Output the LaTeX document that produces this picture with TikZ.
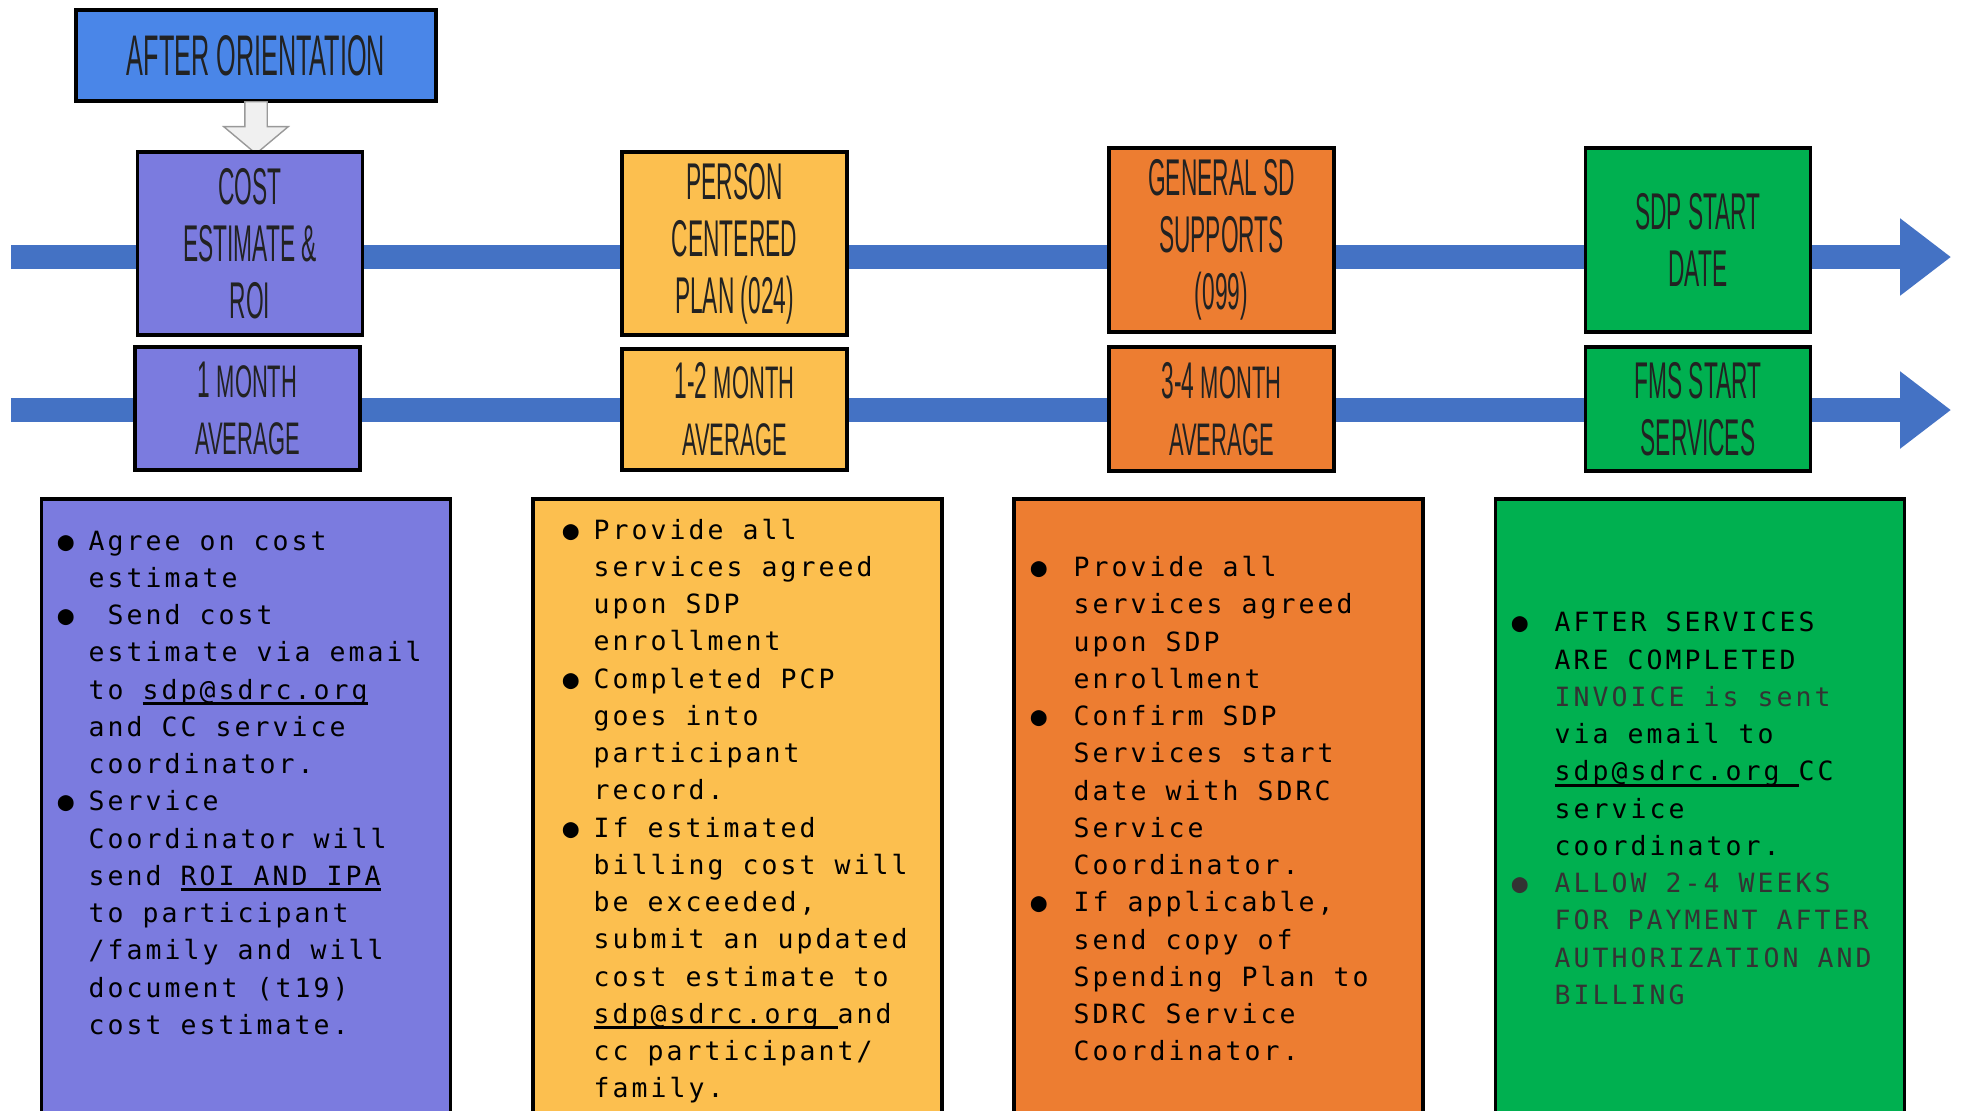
\documentclass[tikz,border=0pt]{standalone}
\usepackage{fontspec}
\usepackage{xcolor}
\usepackage{tikz}
\usetikzlibrary{shapes,arrows.meta,positioning}

\newfontfamily\tallfont[FakeStretch=0.44]{Liberation Sans}
\newfontfamily\widetallfont[FakeStretch=0.48]{Liberation Sans}
\newfontfamily\notefont[LetterSpace=11.5]{DejaVu Sans Mono}

\definecolor{orientblue}{HTML}{4A86E8}
\definecolor{barblue}{HTML}{4472C4}
\definecolor{costpurple}{HTML}{7B7BDF}
\definecolor{planyellow}{HTML}{FCBF4F}
\definecolor{supportorange}{HTML}{ED7D31}
\definecolor{startgreen}{HTML}{00B050}
\definecolor{inkgray}{HTML}{222222}

\newcommand{\lowcaps}[1]{{\widetallfont\fontsize{13pt}{16.2pt}\selectfont #1}}
\newcommand{\ulink}[1]{\setbox0=\hbox{#1}\rlap{\rule[-1.7pt]{\wd0}{0.9pt}}\box0}
\newcommand{\bul}[1]{\llap{●\hspace{#1}}}

\begin{document}
\begin{tikzpicture}
  [
    Box/.style={draw=black, line width=0.9pt, text=inkgray, align=center, inner sep=0pt,
      minimum width=2.25cm, font=\tallfont\fontsize{14.7pt}{16.2pt}\selectfont},
    Panel/.style={draw=black, line width=0.9pt, minimum width=4.09cm, minimum height=6.16cm, inner sep=0pt},
    Note/.style={anchor=north west, align=left, inner sep=0pt, text=black,
      font=\notefont\fontsize{7.54pt}{10.6pt}\selectfont},
    Bar/.style={draw=barblue, line width=0.24cm, -{Triangle[length=0.51cm, width=0.74cm]}}
  ]
  \useasboundingbox (0,0) rectangle (19.61,-11.10);

  % Timeline
  \coordinate (top start) at (0.11,-2.57);
  \coordinate (top end) at (19.51,-2.57);
  \coordinate (low start) at (0.11,-4.10);
  \coordinate (low end) at (19.51,-4.10);

  \path [Bar] (top start) -- (top end);
  \path [Bar] (low start) -- (low end);

  % Nodes
  \node[Box, fill=orientblue, minimum width=3.60cm, minimum height=0.91cm,
    font=\tallfont\fontsize{16.3pt}{18pt}\selectfont] (after) at (2.56,-0.555) {AFTER ORIENTATION};

  \node[single arrow, draw=gray!80, fill=gray!12, rotate=-90, inner xsep=0pt, inner ysep=0.105cm,
    minimum height=0.52cm, single arrow head extend=0.21cm,
    single arrow tip angle=100] (down) at (2.56,-1.23) {};

  \node[Box, fill=costpurple, minimum height=1.83cm] (cost) at (2.50,-2.435) {COST\\ESTIMATE \&\\ROI};
  \node[Box, fill=planyellow, minimum height=1.83cm] (plan) at (7.345,-2.435) {PERSON\\CENTERED\\PLAN (024)};
  \node[Box, fill=supportorange, minimum height=1.84cm] (supports) at (12.215,-2.40) {GENERAL SD\\SUPPORTS\\(099)};
  \node[Box, fill=startgreen, minimum height=1.84cm] (sdpstart) at (16.98,-2.40) {SDP START\\DATE};

  \node[Box, fill=costpurple, minimum height=1.23cm] (month1) at (2.475,-4.085) {1 \lowcaps{MONTH}\\\lowcaps{AVERAGE}};
  \node[Box, fill=planyellow, minimum height=1.21cm] (month2) at (7.345,-4.095) {1-2 \lowcaps{MONTH}\\\lowcaps{AVERAGE}};
  \node[Box, fill=supportorange, minimum height=1.24cm] (month3) at (12.215,-4.09) {3-4 \lowcaps{MONTH}\\\lowcaps{AVERAGE}};
  \node[Box, fill=startgreen, minimum height=1.24cm] (fmsstart) at (16.98,-4.09) {FMS START\\SERVICES};

  \node[Panel, fill=costpurple] (costpanel) at (2.46,-8.07) {};
  \node[Panel, fill=planyellow] (planpanel) at (7.375,-8.07) {};
  \node[Panel, fill=supportorange] (supportpanel) at (12.185,-8.07) {};
  \node[Panel, fill=startgreen] (startpanel) at (17.00,-8.07) {};

  \node[Note] (costnotes) at (0.88,-5.30) {%
    \bul{0.15cm}Agree on cost\\
    estimate\\
    \bul{0.15cm}\ Send cost\\
    estimate via email\\
    to \ulink{sdp@sdrc.org}\\
    and CC service\\
    coordinator.\\
    \bul{0.15cm}Service\\
    Coordinator will\\
    send \ulink{ROI AND IPA}\\
    to participant\\
    /family and will\\
    document (t19)\\
    cost estimate.};

  \node[Note] (plannotes) at (5.93,-5.18) {%
    \bul{0.15cm}Provide all\\
    services agreed\\
    upon SDP\\
    enrollment\\
    \bul{0.15cm}Completed PCP\\
    goes into\\
    participant\\
    record.\\
    \bul{0.15cm}If estimated\\
    billing cost will\\
    be exceeded,\\
    submit an updated\\
    cost estimate to\\
    \ulink{sdp@sdrc.org\ }and\\
    cc participant/\\
    family.};

  \node[Note] (supportnotes) at (10.73,-5.555) {%
    \bul{0.27cm}Provide all\\
    services agreed\\
    upon SDP\\
    enrollment\\
    \bul{0.27cm}Confirm SDP\\
    Services start\\
    date with SDRC\\
    Service\\
    Coordinator.\\
    \bul{0.27cm}If applicable,\\
    send copy of\\
    Spending Plan to\\
    SDRC Service\\
    Coordinator.};

  \node[Note] (startnotes) at (15.54,-6.115) {%
    \bul{0.27cm}AFTER SERVICES\\
    ARE COMPLETED\\
    \textcolor{black!80}{INVOICE is sent}\\
    via email to\\
    \ulink{sdp@sdrc.org\ }CC\\
    service\\
    coordinator.\\
    \textcolor{black!80}{\bul{0.27cm}ALLOW 2-4 WEEKS}\\
    \textcolor{black!80}{FOR PAYMENT AFTER}\\
    \textcolor{black!80}{AUTHORIZATION AND}\\
    \textcolor{black!80}{BILLING}};

\end{tikzpicture}
\end{document}
